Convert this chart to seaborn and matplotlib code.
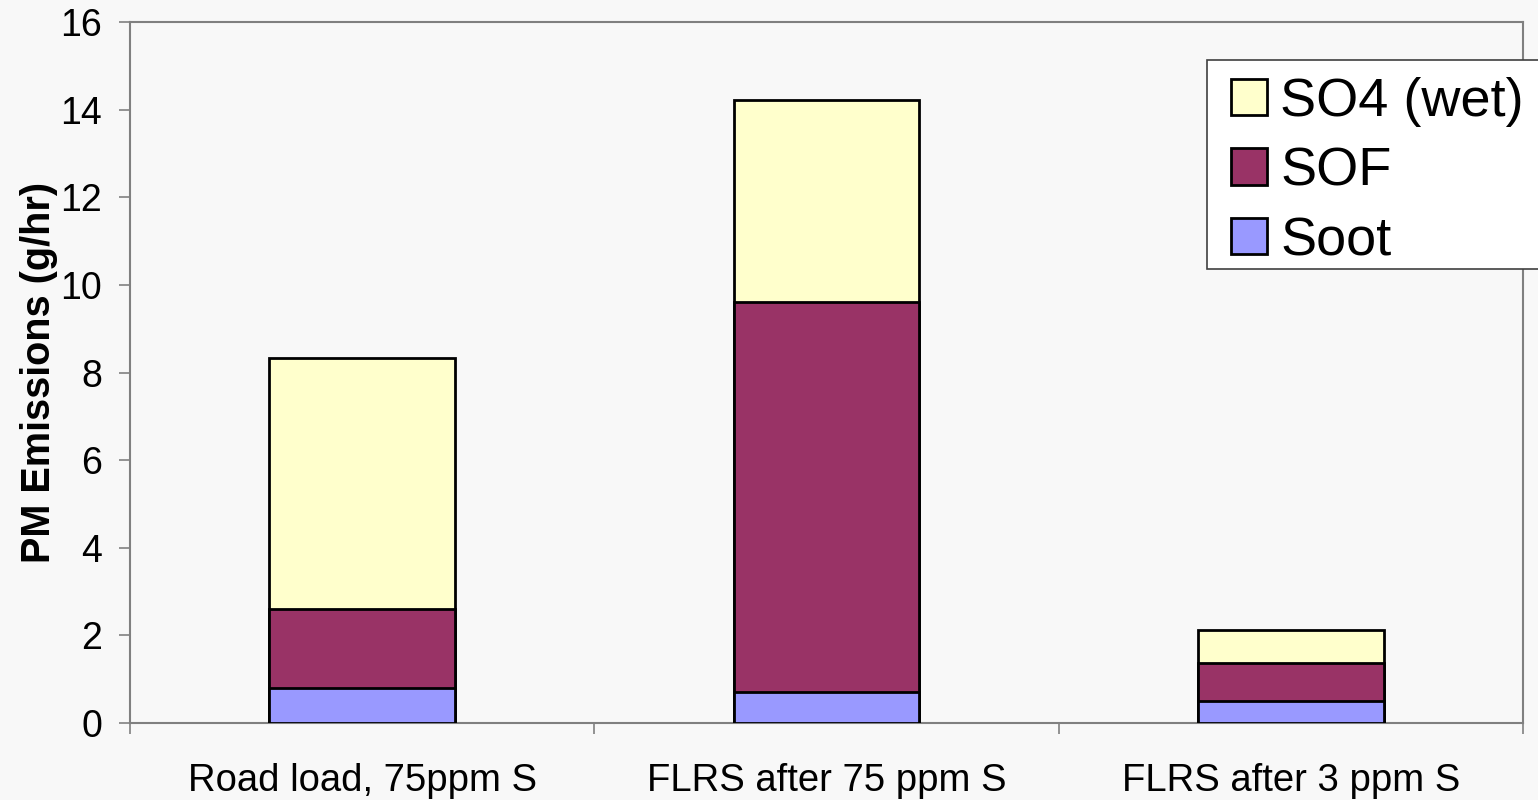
import matplotlib
matplotlib.use("Agg")
import matplotlib.pyplot as plt
import seaborn as sns
import numpy as np
import pandas as pd
from matplotlib.patches import Patch, Rectangle

categories = ["Road load, 75ppm S", "FLRS after 75 ppm S", "FLRS after 3 ppm S"]
soot = [0.80, 0.71, 0.50]
sof = [1.80, 8.90, 0.87]
so4_wet = [5.73, 4.60, 0.75]
series_names = ["SO4 (wet)", "SOF", "Soot"]
yticks = [0, 2, 4, 6, 8, 10, 12, 14, 16]

colors = {"Soot": "#9999FF", "SOF": "#993366", "SO4 (wet)": "#FFFFCC"}
bg = "#F8F8F8"

sns.set_theme(style="white")
plt.rcParams["font.family"] = ["Liberation Sans", "DejaVu Sans"]
plt.rcParams["text.color"] = "black"
plt.rcParams["axes.labelcolor"] = "black"

W, H = 1538, 800
fig = plt.figure(figsize=(W / 100, H / 100), dpi=100, facecolor=bg)
ax = fig.add_axes([130 / W, 1 - 723 / H, (1523 - 130) / W, (723 - 22) / H])
ax.set_facecolor(bg)

cum_soot = np.array(soot)
cum_sof = cum_soot + np.array(sof)
cum_all = cum_sof + np.array(so4_wet)

layers = [("SO4 (wet)", cum_all), ("SOF", cum_sof), ("Soot", cum_soot)]
for name, vals in layers:
    df = pd.DataFrame({"cat": categories, "val": vals})
    sns.barplot(data=df, x="cat", y="val", color=colors[name], saturation=1,
                width=0.4, edgecolor="black", linewidth=2, ax=ax, zorder=3)

ax.set_xlim(-0.5, 2.5)
ax.set_ylim(0, 16)
ax.set_yticks(yticks)
ax.set_yticklabels([str(t) for t in yticks], fontsize=27)
ax.set_xticks([-0.5, 0.5, 1.5, 2.5])
ax.set_xticklabels([])
ax.set_xticks([0, 1, 2], minor=True)
ax.set_xticklabels(categories, minor=True, fontsize=27.5)
ax.tick_params(axis="x", which="major", length=8, width=1.2, color="#808080", direction="out", bottom=True)
ax.tick_params(axis="x", which="minor", length=0, pad=29, labelcolor="black")
ax.tick_params(axis="y", which="major", length=8, width=1.2, color="#808080", direction="out", left=True,
               pad=12, labelcolor="black")
ax.set_xlabel("")
ax.set_ylabel("PM Emissions (g/hr)", fontsize=28.5, fontweight="bold", labelpad=2)

for s in ax.spines.values():
    s.set_visible(True)
    s.set_color("#808080")
    s.set_linewidth(1.5)

# legend box (frame drawn separately to match the reference's tight bottom margin)
frame = Rectangle((1207 / W, 1 - 269 / H), (1545 - 1207) / W, (269 - 60) / H,
                  transform=fig.transFigure, facecolor="white", edgecolor="#404040",
                  linewidth=1.2, zorder=10, clip_on=False)
ax.add_artist(frame)

handles = [Patch(facecolor=colors[n], edgecolor="black", linewidth=2, label=n) for n in series_names]
leg = ax.legend(handles=handles, loc="upper left", bbox_to_anchor=(0.7775, 0.947),
                fontsize=39, frameon=False, handlelength=0.66, handleheight=0.66,
                handletextpad=0.25, labelspacing=0.36, borderpad=0.33, borderaxespad=0)
leg.set_zorder(20)
for t in leg.get_texts():
    t.set_color("black")

fig.savefig("out.png", dpi=100, facecolor=bg)
